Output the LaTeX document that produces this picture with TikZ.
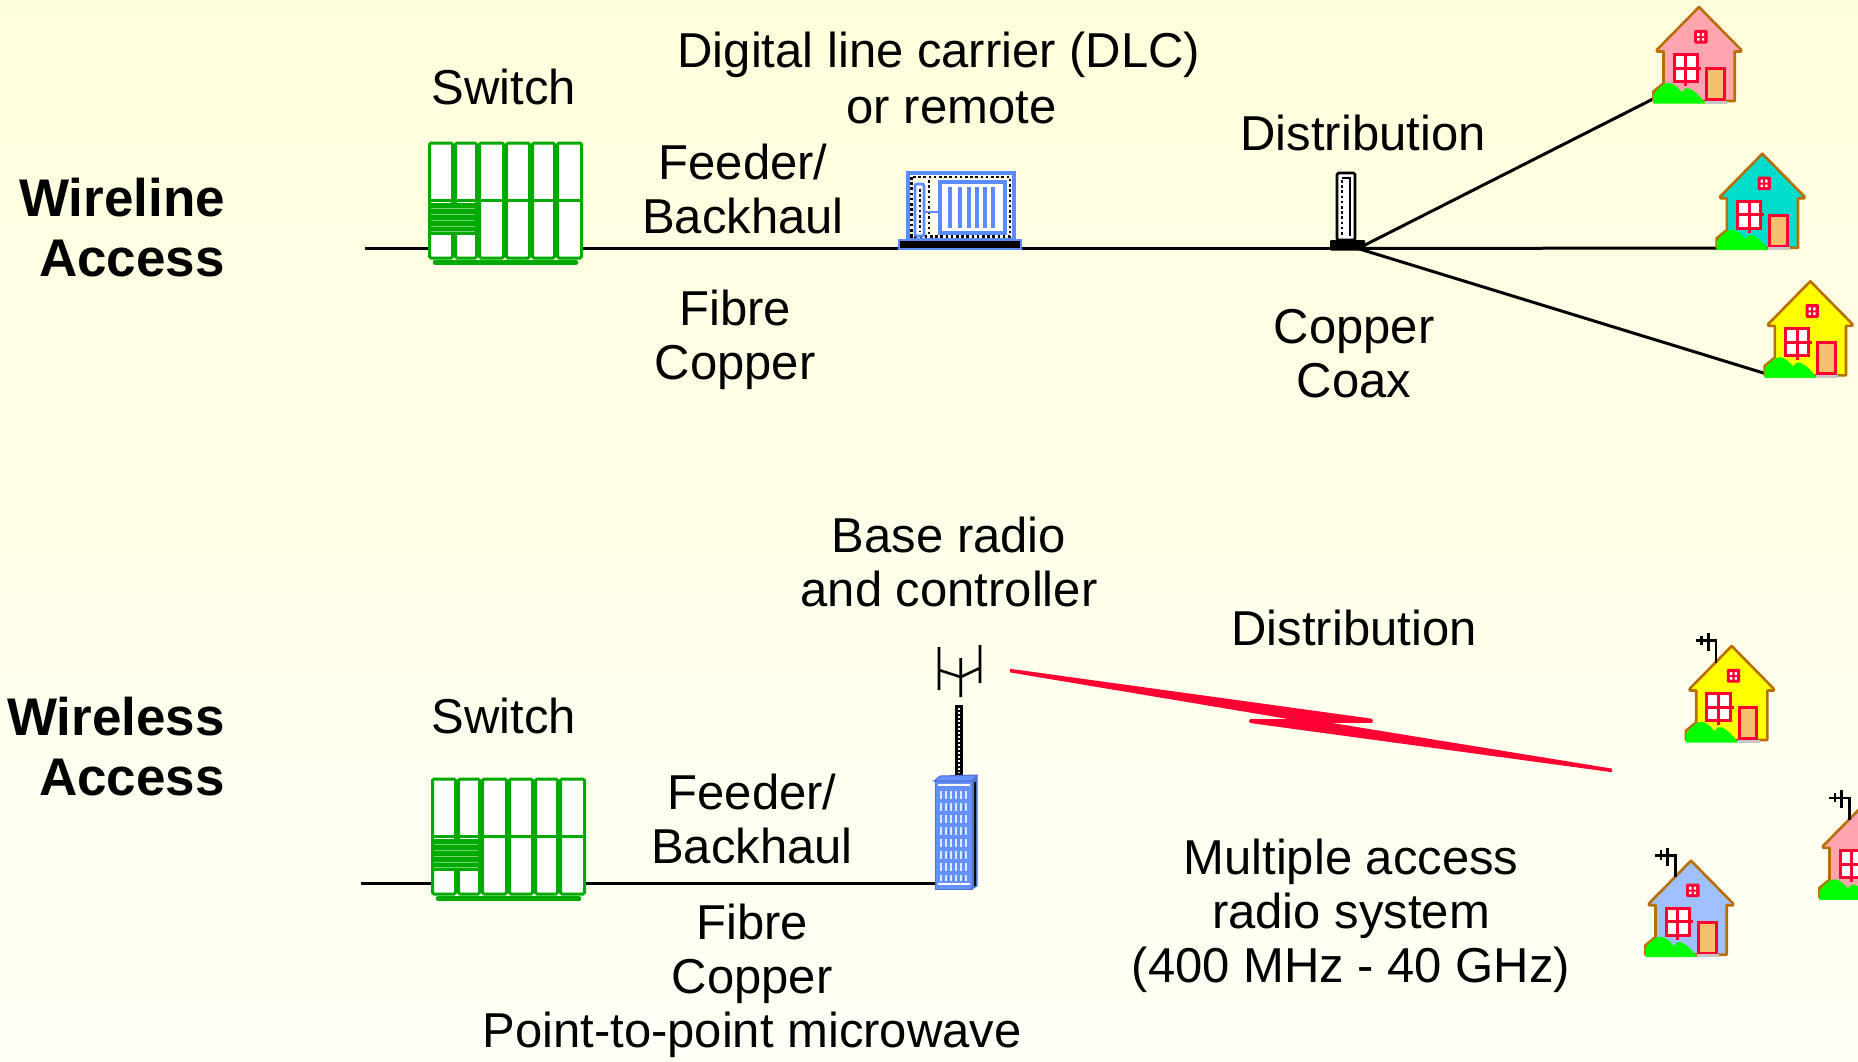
\documentclass[tikz,border=0pt]{standalone}
\usepackage{fontspec}
\setmainfont{Liberation Sans}

\definecolor{swgreen}{RGB}{0,170,0}
\definecolor{dlcblue}{RGB}{90,140,255}
\definecolor{bldblue}{RGB}{100,145,255}
\definecolor{hbrown}{RGB}{185,110,0}
\definecolor{hred}{RGB}{255,0,51}
\definecolor{hdoor}{RGB}{243,192,110}
\definecolor{hgreen}{RGB}{0,255,0}
\definecolor{hpink}{RGB}{255,165,176}
\definecolor{hteal}{RGB}{0,221,204}
\definecolor{hyellow}{RGB}{255,255,0}
\definecolor{hblue}{RGB}{160,192,255}
\definecolor{boltred}{RGB}{255,0,51}
\definecolor{bgtop}{RGB}{255,254,220}
\definecolor{bgbot}{RGB}{255,255,246}

\tikzset{
  wire/.style={black, line width=3},
  device/.style={inner sep=0, draw=none},
  lbl/.style={font=\fontsize{49}{54}\selectfont, align=center, inner sep=0},
  ttl/.style={font=\fontsize{53}{60}\selectfont\bfseries, align=right, inner sep=0, anchor=east},
  swline/.style={swgreen, line width=3},
  dotline/.style={black, line width=2.6, dash pattern=on 2.6pt off 2.6pt},
}

% rack of six switch cabinets, origin at its top-left corner
\newcommand\switchrack{%
  \foreach \a/\b in {0/26,26/50,50/77,77/103,103/128,128/155}{
    \filldraw[swline, fill=white, rounded corners=1.5] (\a+1.5,0) rectangle (\b-1.5,115);
    \draw[swline] (\a+1.5,57) -- (\b-1.5,57);
  }
  \fill[swgreen] (1.5,60) rectangle (48.5,92);
  \foreach \y in {65,71,77,83,88} \draw[swgreen!55!white, line width=0.6] (3,\y) -- (47,\y);
  \draw[swgreen, line width=4.5, line cap=round] (7,119.5) -- (148,119.5);
}

% house with its apex at the origin; #1 wall colour, #2 = 1 adds a roof antenna
\newcommand\house[2]{%
  \filldraw[draw=hbrown, fill=#1, line width=2.6, line join=round]
    (0,0) -- (-42,42.7) -- (-42,44.5) -- (-35.5,44.5) -- (-35.5,76.3) -- (-45.7,84.7)
    -- (-45.7,94) -- (35.7,94) -- (35.7,44.5) -- (42,44.5) -- (42,42.7) -- cycle;
  \filldraw[draw=hred, fill=white, line width=3] (-25,47.5) rectangle (-1.5,74.5);
  \draw[hred, line width=3] (-13.2,47.5) -- (-13.2,79) (-25,61) -- (2,61);
  \filldraw[draw=hred, fill=hred, line width=1, rounded corners=1] (-4.3,23.3) rectangle (8,36);
  \fill[white] (-1.8,26) rectangle (0.6,29) (2.8,26) rectangle (5.2,29)
               (-1.8,31) rectangle (0.6,33.5) (2.8,31) rectangle (5.2,33.5);
  \filldraw[draw=hred, fill=hdoor, line width=3] (7.5,61.5) rectangle (25,92.5);
  \fill[black!22] (6,93.5) rectangle (28,96.5);
  \fill[hgreen] (-45.7,96.5) -- (-45.7,88) .. controls (-40,79) and (-32,74) .. (-27.3,76.5)
    .. controls (-22,79) and (-19,83) .. (-17.3,85.2)
    .. controls (-14,81) and (-12,80) .. (-9.7,81.5)
    .. controls (-4,84) and (2,90) .. (6,96.5) -- cycle;
  \ifnum#2=1
    \draw[black, line width=2.8] (-35.7,-5.3) -- (-15.7,-5.3) -- (-15.7,16.5)
      (-30,-10.5) -- (-30,-1) (-23.4,-13) -- (-23.4,5);
  \fi
}

\begin{document}
\begin{tikzpicture}[x=1pt, y=-1pt]
\useasboundingbox (0,0) rectangle (1858,1061);
\clip (0,0) rectangle (1858,1061);
\shade[top color=bgtop, bottom color=bgbot] (0,0) rectangle (1858,1061);

% ---------- wireline access ----------
\node[device, minimum width=155, minimum height=122] (sw1) at (505.5,202) {};
\node[device, minimum width=122, minimum height=77] (dlc) at (960,211.5) {};
\node[device, minimum width=35, minimum height=77] (pole) at (1347.5,211.5) {};
\coordinate (in1) at (365,248.5);
\coordinate (hub) at (1358,248.5);

\draw[wire] (in1) -- (in1 -| sw1.west);
\draw[wire] (sw1.east |- in1) -- (dlc.west |- in1);
\draw[wire] (dlc.east |- in1) -- (pole.west |- in1);

\begin{scope}[shift={(428,143)}] \switchrack \end{scope}

% digital line carrier cabinet
\filldraw[draw=dlcblue, fill=white!92!yellow, line width=3.2] (908,173) rectangle (1014,240);
\draw[dotline] (911.5,177) rectangle (1010,236.5);
\draw[dotline] (929,180) -- (929,234);
\filldraw[draw=dlcblue, fill=white, line width=2.8, rounded corners=2] (915,184) rectangle (924,236);
\draw[dotline, line width=2] (919.5,189) -- (919.5,232);
\draw[dlcblue, line width=2.6] (924,212) -- (940,212);
\filldraw[draw=dlcblue, fill=white, line width=3.2] (940,182) rectangle (1005,233);
\foreach \x in {950,960,969,977,985,993} \draw[dlcblue, line width=3.2] (\x,187) -- (\x,228);
\filldraw[draw=dlcblue, fill=black, line width=2.8] (899,240) rectangle (1021,249);

% distribution pole and drops to the houses
\coordinate (h1) at (1653,99);
\coordinate (h2) at (1717,248);
\coordinate (h3) at (1770,375);
\draw[wire] (hub) -- (h1);
\draw[wire] (hub) -- (h2);
\draw[wire] (hub) -- (h3);
\filldraw[draw=black, fill=white, line width=2.8, rounded corners=1.5] (1337,173) rectangle (1355,240);
\draw[dotline, line width=2.2] (1342,180) -- (1342,237);
\draw[black, line width=1.5] (1342,178) -- (1350,178) -- (1350,236);
\fill[black, rounded corners=1] (1330,240) rectangle (1365,250.5);

\begin{scope}[shift={(1699,7)}] \house{hpink}{0} \end{scope}
\begin{scope}[shift={(1762.3,153.7)}] \house{hteal}{0} \end{scope}
\begin{scope}[shift={(1810.3,281.3)}] \house{hyellow}{0} \end{scope}

\node[ttl] (wl) at (225,228) {Wireline\\Access};
\node[lbl] (lsw1) at (504,87) {Switch};
\node[lbl] (ldlc1) at (939,55) {Digital line carrier (DLC)};
\node[lbl] (ldlc2) at (951.5,108) {or remote};
\node[lbl] (lfb1) at (743,189) {Feeder/\\Backhaul};
\node[lbl] (lfc1) at (735,340) {Fibre\\Copper};
\node[lbl] (ldi1) at (1363,133) {Distribution};
\node[lbl] (lcc) at (1354,354) {Copper\\Coax};

% ---------- wireless access ----------
\node[device, minimum width=153, minimum height=121] (sw2) at (507.5,839) {};
\node[device, minimum width=42, minimum height=243] (bts) at (956,766) {};
\coordinate (in2) at (361,883);

\draw[wire] (in2) -- (in2 -| sw2.west);
\draw[wire] (sw2.east |- in2) -- (bts.west |- in2);

\begin{scope}[shift={(431,779)}] \switchrack \end{scope}

% base station: antenna, mast and building
\draw[black, line width=2.6] (939,647) -- (939,690) (980,645) -- (980,683) (960.7,658) -- (960.7,697)
  (939,670) -- (960.7,677) -- (980,668);
\fill[black] (955,705) rectangle (963,776);
\draw[white, line width=2, dash pattern=on 2pt off 2pt] (959,708) -- (959,773);
\filldraw[draw=dlcblue!80!black, fill=bldblue, line width=1] (934,781) -- (940,776) -- (977,775) -- (972,781) -- cycle;
\filldraw[draw=dlcblue!80!black, fill=bldblue!85!black, line width=1] (972,781) -- (977,776) -- (977,886) -- (972,889) -- cycle;
\draw[black, line width=2.2] (975,782) -- (975,886);
\filldraw[draw=bldblue!80!black, fill=bldblue, line width=1] (935.5,781) rectangle (972,889);
\draw[white, line width=2] (938,785) -- (970,785);
\foreach \x in {941,946,951,956,961,966}
  \draw[white!80!bldblue, line width=2, dash pattern=on 8pt off 4pt] (\x,791) -- (\x,881);
\draw[white, line width=1.2] (938,884) -- (970,884);

% radio link
\fill[boltred] (1010,668.8) -- (1372,718.7) -- (1372,722.6) -- (1310,722.6) -- (1010,672.4) -- cycle;
\fill[boltred] (1250,719.4) -- (1310,719.4) -- (1612,768.6) -- (1612,772.2) -- (1250,723) -- cycle;
\draw[boltred, line width=3.8, line cap=round] (1251,721) -- (1371,721);

\begin{scope}[shift={(1731.7,646)}] \house{hyellow}{1} \end{scope}
\begin{scope}[shift={(1691,860.7)}] \house{hblue}{1} \end{scope}
\begin{scope}[shift={(1865,803.3)}] \house{hpink}{1} \end{scope}

\node[ttl] (wls) at (225,747) {Wireless\\Access};
\node[lbl] (lsw2) at (504,716) {Switch};
\node[lbl] (lbr) at (949,562) {Base radio\\and controller};
\node[lbl] (ldi2) at (1354,628) {Distribution};
\node[lbl] (lfb2) at (752,819) {Feeder/\\Backhaul};
\node[lbl] (lfc2) at (752,981) {Fibre\\Copper\\Point-to-point microwave};
\node[lbl] (lmr) at (1351,916) {Multiple access\\radio system\\(400 MHz - 40 GHz)};
\end{tikzpicture}
\end{document}
